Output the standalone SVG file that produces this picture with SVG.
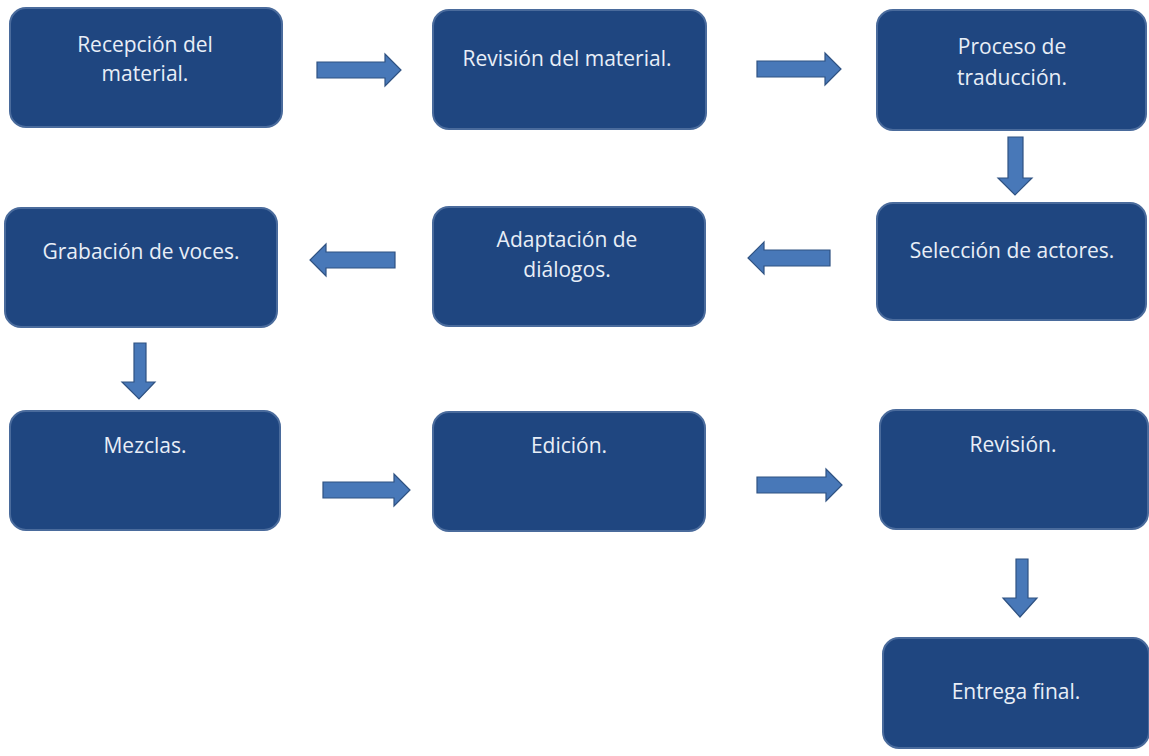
<svg xmlns="http://www.w3.org/2000/svg" width="1149" height="756" viewBox="0 0 1149 756">
<style>
.box{fill:#1f4680;stroke:#4a6b9c;stroke-width:2}
.t{font-family:"Open Sans","Liberation Sans",sans-serif;font-size:21px;fill:#e8eef7;text-anchor:middle}
.ar{fill:#4878b8;stroke:#2f5282;stroke-width:1.2}
</style>
<rect width="1149" height="756" fill="#ffffff"/>
<g id="n1"><rect class="box" x="10" y="8" width="272" height="119" rx="16"/><text class="t" x="145" y="52">Recepción del</text><text class="t" x="145" y="81">material.</text></g>
<g id="n2"><rect class="box" x="433" y="10" width="273" height="119" rx="16"/><text class="t" x="567" y="66">Revisión del material.</text></g>
<g id="n3"><rect class="box" x="877" y="10" width="269" height="120" rx="16"/><text class="t" x="1012" y="54">Proceso de</text><text class="t" x="1012" y="85">traducción.</text></g>
<g id="n4"><rect class="box" x="877" y="203" width="269" height="117" rx="16"/><text class="t" x="1012" y="258">Selección de actores.</text></g>
<g id="n5"><rect class="box" x="433" y="207" width="272" height="119" rx="16"/><text class="t" x="567" y="247">Adaptación de</text><text class="t" x="567" y="277">diálogos.</text></g>
<g id="n6"><rect class="box" x="5" y="208" width="272" height="119" rx="16"/><text class="t" x="141" y="259">Grabación de voces.</text></g>
<g id="n7"><rect class="box" x="10" y="411" width="270" height="119" rx="16"/><text class="t" x="145" y="453">Mezclas.</text></g>
<g id="n8"><rect class="box" x="433" y="412" width="272" height="119" rx="16"/><text class="t" x="569" y="453">Edición.</text></g>
<g id="n9"><rect class="box" x="880" y="410" width="268" height="119" rx="16"/><text class="t" x="1013" y="452">Revisión.</text></g>
<g id="n10"><rect class="box" x="883" y="638" width="266" height="110" rx="16"/><text class="t" x="1016" y="699">Entrega final.</text></g>
<g id="connectors">
<polygon class="ar" points="317,62 385,62 385,54 401,70 385,86 385,78 317,78"/>
<polygon class="ar" points="757,61 825,61 825,53 841,69 825,85 825,77 757,77"/>
<polygon class="ar" points="1008,137 1023,137 1023,178 1032,178 1015,195 998,178 1008,178"/>
<polygon class="ar" points="830,250 764,250 764,242 748,258 764,274 764,266 830,266"/>
<polygon class="ar" points="395,252 326,252 326,244 310,260 326,276 326,268 395,268"/>
<polygon class="ar" points="134,343 146,343 146,382 155,382 139,399 122,382 134,382"/>
<polygon class="ar" points="323,482 394,482 394,474 410,490 394,506 394,498 323,498"/>
<polygon class="ar" points="757,477 826,477 826,469 842,485 826,501 826,493 757,493"/>
<polygon class="ar" points="1016,559 1028,559 1028,598 1037,598 1020,617 1003,598 1016,598"/>
</g>
</svg>
